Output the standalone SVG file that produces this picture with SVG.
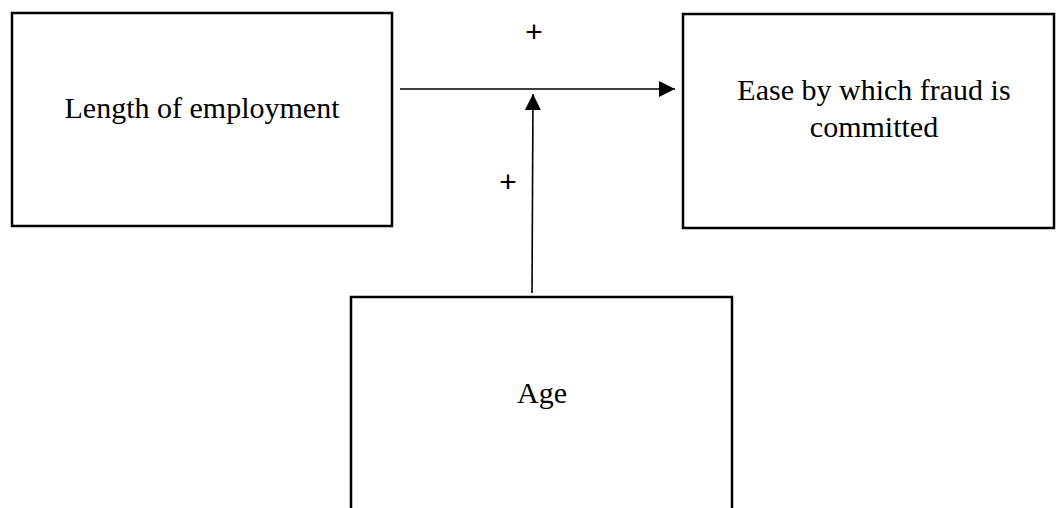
<svg xmlns="http://www.w3.org/2000/svg" width="1057" height="508" viewBox="0 0 1057 508">
<style>
.box{fill:#fff;stroke:#000;stroke-width:2.5}
.lbl{font-family:"Liberation Serif",serif;font-size:30px;fill:#000;text-anchor:middle}
.sign{font-family:"Liberation Sans",sans-serif;font-size:30px;fill:#000;text-anchor:middle}
.conn{stroke:#000;stroke-width:1.6;fill:none}
</style>
<defs>
<marker id="ah" viewBox="0 0 16 16" refX="16" refY="8" markerWidth="16" markerHeight="16" markerUnits="userSpaceOnUse" orient="auto">
<path d="M0,0 L16,8 L0,16 Z" fill="#000"/>
</marker>
</defs>
<rect width="1057" height="508" fill="#fff"/>
<g id="node-length">
<rect class="box" x="12" y="13" width="380" height="213"/>
<text class="lbl" x="202" y="118">Length of employment</text>
</g>
<g id="node-ease">
<rect class="box" x="683" y="14" width="371" height="214"/>
<text class="lbl" x="874" y="100">Ease by which fraud is</text>
<text class="lbl" x="874" y="137">committed</text>
</g>
<g id="node-age">
<rect class="box" x="351" y="297" width="381" height="230"/>
<text class="lbl" x="542" y="403">Age</text>
</g>
<g id="connectors">
<line class="conn" x1="400" y1="89" x2="675" y2="89" marker-end="url(#ah)"/>
<line class="conn" x1="532" y1="293" x2="533" y2="94" marker-end="url(#ah)"/>
<text class="sign" x="534" y="42">+</text>
<text class="sign" x="508" y="192">+</text>
</g>
</svg>
